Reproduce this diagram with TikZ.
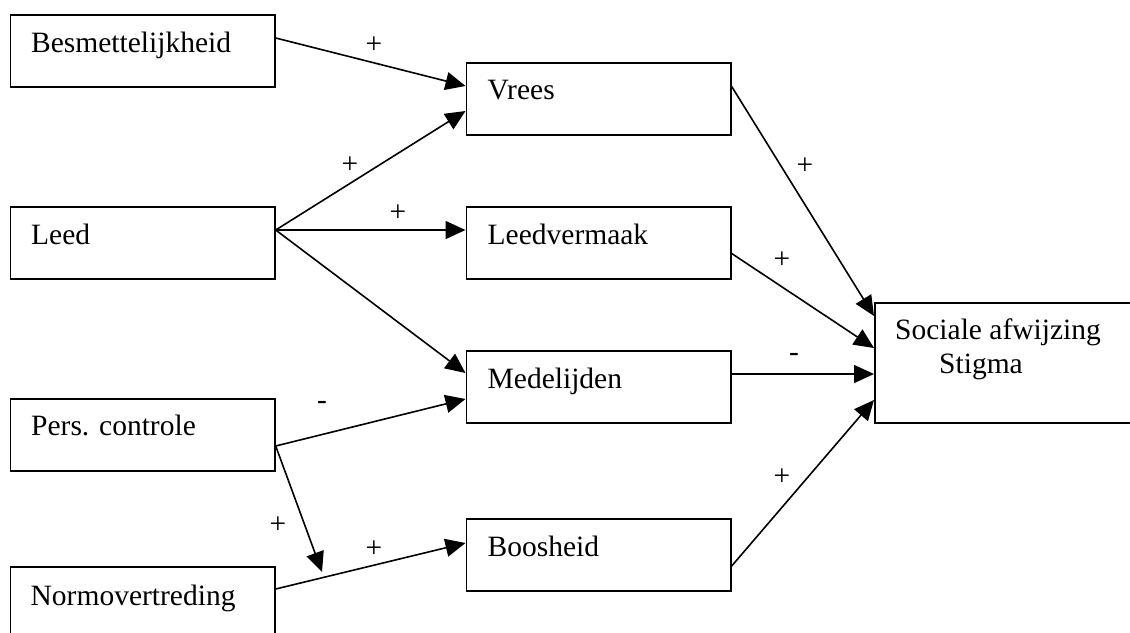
\documentclass[tikz,border=0pt]{standalone}
\usepackage{fontspec}
\setmainfont{Liberation Serif}
\usetikzlibrary{arrows.meta}
\begin{document}
\begin{tikzpicture}[x=1pt,y=-1pt,
  box/.style={draw, line width=1.7pt, rectangle, anchor=north west, inner sep=0pt, minimum width=264.5pt, minimum height=72pt},
  txt/.style={anchor=base west, inner sep=0pt, font=\fontsize{29.5}{34}\selectfont},
  sign/.style={inner sep=0pt, font=\fontsize{29.5}{34}\selectfont},
  arr/.style={line width=1.6pt, -{Triangle[length=20pt,width=18pt]}}]
\useasboundingbox (0,0) rectangle (1130,632);
\fill[white] (0,0) rectangle (1130,632);
% boxes
\node[box] (bes) at (9.5,14) {};
\node[box] (leed) at (9.5,206) {};
\node[box] (pers) at (9.5,398) {};
\node[box, minimum height=90pt] (norm) at (9.5,566) {};
\node[box] (vrees) at (465.5,62) {};
\node[box] (leedv) at (465.5,206) {};
\node[box] (medel) at (465.5,350) {};
\node[box] (boos) at (465.5,518) {};
\node[box, minimum width=262pt, minimum height=120pt] (soc) at (874,302) {};
% texts
\node[txt] (besT) at ([xshift=21.5pt,yshift=-38pt]bes.north west) {Besmettelijkheid};
\node[txt] (leedT) at ([xshift=21.5pt,yshift=-38pt]leed.north west) {Leed};
\node[txt] (persT) at ([xshift=21.5pt,yshift=-37pt]pers.north west) {Pers. controle};
\node[txt] (normT) at ([xshift=21pt,yshift=-39pt]norm.north west) {Normovertreding};
\node[txt] (vreesT) at ([xshift=22pt,yshift=-37pt]vrees.north west) {Vrees};
\node[txt] (leedvT) at ([xshift=22pt,yshift=-38pt]leedv.north west) {Leedvermaak};
\node[txt] (medelT) at ([xshift=22pt,yshift=-38pt]medel.north west) {Medelijden};
\node[txt] (boosT) at ([xshift=22pt,yshift=-38pt]boos.north west) {Boosheid};
\node[txt] (socT1) at ([xshift=21pt,yshift=-37pt]soc.north west) {Sociale afwijzing};
\node[txt] (socT2) at ([xshift=65pt,yshift=-71pt]soc.north west) {Stigma};
% connectors
\coordinate (normIn) at (322,572);
\draw[arr] ([yshift=-24pt]bes.north east) -- ([yshift=-24pt]vrees.north west);
\draw[arr] ([yshift=-24pt]leed.north east) -- ([yshift=-49pt]vrees.north west);
\draw[arr] ([yshift=-24pt]leed.north east) -- ([yshift=-24pt]leedv.north west);
\draw[arr] ([yshift=-24pt]leed.north east) -- ([yshift=-23pt]medel.north west);
\draw[arr] ([yshift=-48pt]pers.north east) -- ([yshift=-49pt]medel.north west);
\draw[arr] ([yshift=-48pt]pers.north east) -- (normIn);
\draw[arr] ([yshift=-23pt]norm.north east) -- ([yshift=-25pt]boos.north west);
\draw[arr] ([yshift=-24.5pt]vrees.north east) -- ([yshift=-14pt]soc.north west);
\draw[arr] ([yshift=-47.5pt]leedv.north east) -- ([yshift=-46pt]soc.north west);
\draw[arr] ([yshift=-24pt]medel.north east) -- ([yshift=-72pt]soc.north west);
\draw[arr] ([yshift=-48pt]boos.north east) -- ([yshift=-98pt]soc.north west);
% signs
\node[sign] (s1) at (374,45) {+};
\node[sign] (s2) at (350,165) {+};
\node[sign] (s3) at (398,213) {+};
\node[sign] (s4) at (322,405) {-};
\node[sign] (s5) at (278,525) {+};
\node[sign] (s6) at (374,549) {+};
\node[sign] (s7) at (805,166) {+};
\node[sign] (s8) at (782,260) {+};
\node[sign] (s9) at (794,357) {-};
\node[sign] (s10) at (782,477) {+};
\end{tikzpicture}
\end{document}
